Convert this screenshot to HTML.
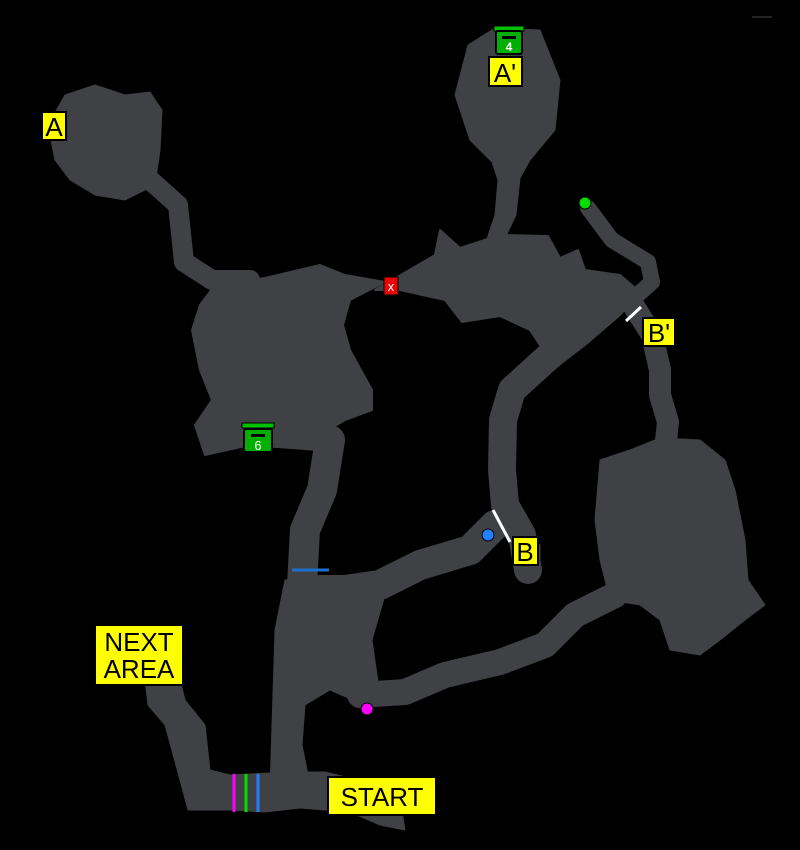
<!DOCTYPE html>
<html><head><meta charset="utf-8"><style>
html,body{margin:0;padding:0;background:#000;width:800px;height:850px;overflow:hidden}
svg{display:block}
.lbl{font-family:"Liberation Sans","DejaVu Sans",sans-serif;font-size:26px;fill:#000}
</style></head><body>
<svg width="800" height="850" viewBox="0 0 800 850" xmlns="http://www.w3.org/2000/svg">
<rect width="800" height="850" fill="#000"/>
<g fill="#3f4145" stroke="#3f4145" stroke-linejoin="round" stroke-linecap="round">
<!-- A blob -->
<polygon points="48,125 65,95 95,85 125,95 150,92 162,110 160,150 155,185 125,200 95,195 70,180 55,160"/>
<polyline fill="none" stroke-width="20" points="150,180 178,205 184,262 212,280 250,280"/>
<!-- central room -->
<polygon stroke-width="2" points="215,285 265,278 320,265 345,275 385,282 350,300 343,325 350,350 372,390 372,410 345,420 320,435 318,450 250,445 205,455 195,425 212,400 200,370 192,330 200,305"/>
<polyline fill="none" stroke-width="30" points="330,440 322,490 305,530 302,585"/>
<!-- A' blob -->
<polygon points="455,95 468,45 495,28 540,30 560,80 555,130 530,160 520,178 516,215 505,238 485,245 495,215 498,180 492,162 470,140"/>
<!-- upper right room -->
<polygon stroke-width="2" points="375,290 435,255 440,230 460,248 500,235 548,236 560,258 578,250 585,270 620,275 640,292 620,315 585,345 555,368 530,330 500,316 462,322 445,300 400,290"/>
<polyline fill="none" stroke-width="16" points="588,208 612,240 648,262 652,282 632,300"/>
<polyline fill="none" stroke-width="22" points="630,300 652,335 660,370 660,395 668,422 665,450"/>
<!-- big right room -->
<polygon points="600,460 630,450 660,438 700,440 725,460 735,490 745,540 748,580 765,605 745,620 720,640 700,655 670,650 660,620 640,605 610,600 600,560 595,520"/>
<!-- corridor down to B -->
<polyline fill="none" stroke-width="28" points="590,320 545,360 512,390 503,420 502,470 505,505 522,535 528,570"/>
<polygon points="515,530 540,545 540,575 525,580 515,560"/>
<!-- B corridor back -->
<polyline fill="none" stroke-width="30" points="495,525 470,550 420,565 380,585 345,590 300,590"/>
<!-- lower loop corridor -->
<polyline fill="none" stroke-width="26" points="615,595 575,615 545,645 500,662 445,675 405,692 360,695"/>
<!-- bottom left room -->
<polygon points="285,580 350,580 385,595 372,640 378,682 410,688 360,703 330,690 305,705 302,745 308,775 270,790"/>
<polygon points="285,580 300,600 300,790 270,790 275,630"/>
<!-- bottom corridor to next area -->
<polygon points="145,680 180,680 185,700 205,725 210,770 230,775 290,772 325,772 350,778 380,782 400,800 405,830 380,825 350,812 300,808 265,812 230,810 188,810 180,780 165,725 148,705"/>
</g>
<!-- markers -->
<line x1="292" y1="570" x2="329" y2="570" stroke="#1e6fd0" stroke-width="3"/>
<line x1="626" y1="321" x2="641" y2="307" stroke="#fff" stroke-width="3"/>
<line x1="493" y1="510" x2="510" y2="542" stroke="#fff" stroke-width="3"/>
<line x1="234" y1="774" x2="234" y2="812" stroke="#ff00ff" stroke-width="3"/>
<line x1="246" y1="774" x2="246" y2="812" stroke="#00e000" stroke-width="3"/>
<line x1="258" y1="774" x2="258" y2="812" stroke="#1e7fff" stroke-width="3"/>
<line x1="752" y1="17" x2="772" y2="17" stroke="#222" stroke-width="2"/>
<circle cx="585" cy="203" r="6" fill="#00e000" stroke="#000"/>
<circle cx="488" cy="535" r="6" fill="#1e7fff" stroke="#000"/>
<circle cx="367" cy="709" r="6" fill="#ff00ff" stroke="#000"/>
<!-- red x -->
<rect x="384" y="277" width="14" height="18" fill="#e00" stroke="#000"/>
<text x="391" y="291" font-family="Liberation Sans,sans-serif" font-size="13" fill="#fff" text-anchor="middle">x</text>
<!-- chests -->
<g>
<rect x="494" y="26" width="30" height="5" fill="#00c000" stroke="#000"/>
<rect x="496" y="31" width="26" height="23" rx="2" fill="#00b000" stroke="#000" stroke-width="2"/>
<rect x="502" y="36" width="14" height="3" fill="#000"/>
<text x="509" y="51" font-family="Liberation Sans,sans-serif" font-size="12" font-weight="bold" fill="#fff" text-anchor="middle">4</text>
<rect x="242" y="423" width="32" height="5" fill="#00c000" stroke="#000"/>
<rect x="244" y="429" width="28" height="23" rx="2" fill="#00b000" stroke="#000" stroke-width="2"/>
<rect x="251" y="434" width="14" height="3" fill="#000"/>
<text x="258" y="450" font-family="Liberation Sans,sans-serif" font-size="13" fill="#fff" text-anchor="middle">6</text>
</g>
<!-- labels -->
<g fill="#ffff00" stroke="#000" stroke-width="2">
<rect x="42" y="112" width="24" height="28"/>
<rect x="489" y="57" width="33" height="29"/>
<rect x="643" y="318" width="32" height="28"/>
<rect x="513" y="537" width="25" height="28"/>
<rect x="95" y="625" width="88" height="60"/>
<rect x="328" y="777" width="108" height="38"/>
</g>
<text class="lbl" x="54" y="136" text-anchor="middle">A</text>
<text class="lbl" x="505" y="82" text-anchor="middle">A'</text>
<text class="lbl" x="659" y="342" text-anchor="middle">B'</text>
<text class="lbl" x="525" y="561" text-anchor="middle">B</text>
<text class="lbl" x="139" y="651" text-anchor="middle">NEXT</text>
<text class="lbl" x="139" y="678" text-anchor="middle">AREA</text>
<text class="lbl" x="382" y="806" text-anchor="middle" font-size="28">START</text>
</svg>
</body></html>
